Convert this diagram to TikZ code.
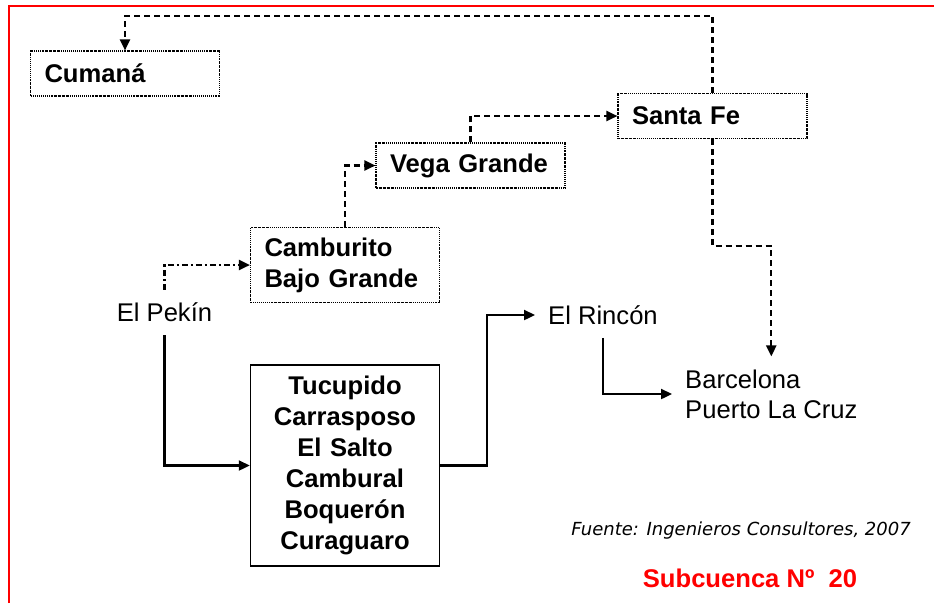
\documentclass[tikz,border=0pt]{standalone}
\usepackage{fontspec}
\setmainfont{Liberation Sans}
\newfontfamily\notefont{DejaVu Sans}
\usetikzlibrary{arrows.meta}

\tikzset{%
  every station/.style={
    draw,
    line width=1.1pt,
    dash pattern=on 1.5pt off 1pt on 0.6pt off 1pt,
    font=\fontsize{25.6}{31}\selectfont\bfseries,
    align=left,
    inner xsep=14pt,
    text width=161pt,
    minimum height=45pt
  },
  station main/.style={
    solid,
    line width=1.5pt,
    align=center,
    minimum height=201pt
  },
  town/.style={
    font=\fontsize{25.6}{30}\selectfont,
    align=left,
    inner sep=13pt
  },
  dashed link/.style={line width=2.3pt, dash pattern=on 6pt off 4pt},
  dashdot link/.style={line width=2.3pt, dash pattern=on 6pt off 3pt on 2pt off 3pt},
  solid link/.style={line width=2.3pt},
  red frame/.style={draw=red, line width=2.4pt},
  source note/.style={font=\notefont\fontsize{18}{22}\selectfont\itshape},
  basin title/.style={text=red, font=\fontsize{25.6}{30}\selectfont\bfseries},
}

\begin{document}
\begin{tikzpicture}[x=1pt, y=-1pt, >={Triangle[length=11pt,width=10pt]}]

\useasboundingbox (0,0) rectangle (934,603);
\draw [red frame] (9,603) -- (9,6) -- (934,6);

\node [every station] (cumana) at (125,73.5) {Cumaná};
\node [every station] (vega) at (470.5,165.5) {Vega Grande};
\node [every station] (santafe) at (712.5,116) {Santa Fe};
\node [every station, minimum height=75pt] (camburito) at (345,265) {Camburito\\Bajo Grande};
\node [every station, station main] (tucupido) at (345,465.5)
  {Tucupido\\Carrasposo\\El Salto\\Cambural\\Boquerón\\Curaguaro};

\node [town] (pekin) at (164.5,312.5) {El Pekín};
\node [town, anchor=west] (rincon) at (535,315) {El Rincón};
\node [town, anchor=west] (barcelona) at (672,394) {Barcelona\\Puerto La Cruz};

\draw [dashed link, ->] (santafe.north) -- ++(0,-77) -| (cumana.north);
\draw [dashed link, ->] (santafe.south) -- ++(0,107) -| (barcelona.north);

\foreach \a/\b in {camburito/vega, vega/santafe}
  \draw [dashed link, ->] (\a.north) |- (\b.west);

\draw [dashdot link, ->] (pekin.north) |- (camburito.west);
\draw [solid link, ->] (pekin.south) |- (tucupido.west);
\draw [solid link, ->] (tucupido.east) -- ++(47,0) |- (rincon.west);
\draw [solid link, ->] (rincon.south) |- (barcelona.west);

\node [source note] (fuente) at (741,531) {Fuente: Ingenieros Consultores, 2007};
\node [basin title] (subcuenca) at (750,578) {Subcuenca Nº\ \ 20};

\end{tikzpicture}
\end{document}
